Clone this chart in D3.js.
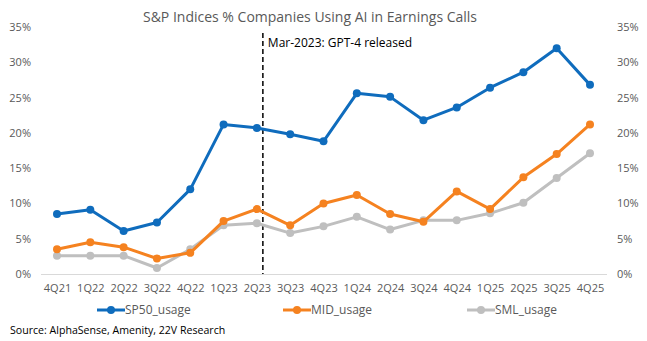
<!DOCTYPE html>
<html><head><meta charset="utf-8">
<script src="https://cdn.jsdelivr.net/npm/d3@7"></script>
<style>body{margin:0;background:#fff;}svg{display:block;font-family:"Open Sans",sans-serif;}</style>
</head><body><svg id="c" width="647" height="341"></svg>
<script>
const categories = ["4Q21","1Q22","2Q22","3Q22","4Q22","1Q23","2Q23","3Q23","4Q23","1Q24","2Q24","3Q24","4Q24","1Q25","2Q25","3Q25","4Q25"];
const sp50 = [8.5,9.1,6.1,7.3,12.0,21.2,20.7,19.8,18.8,25.6,25.1,21.8,23.6,26.4,28.6,32.0,26.8];
const mid  = [3.5,4.5,3.8,2.2,3.0,7.5,9.2,6.9,10.0,11.2,8.5,7.4,11.7,9.2,13.7,17.0,21.2];
const sml  = [2.6,2.6,2.6,0.85,3.5,6.9,7.2,5.8,6.75,8.1,6.3,7.6,7.6,8.6,10.1,13.6,17.1];
const yTicks = [0,5,10,15,20,25,30,35];
const seriesNames = ["SP50_usage","MID_usage","SML_usage"];
const colors = ["#0F6CBD","#F58220","#BFBFBF"];
const annotation = "Mar-2023: GPT-4 released";

const svg = d3.select("#c");
const x = d3.scalePoint().domain(categories).range([57,590]);
const y = d3.scaleLinear().domain([0,35]).range([274,27]);
const textCol = "#595959";

svg.append("text").attr("x",310).attr("y",22).attr("text-anchor","middle")
  .attr("font-size",14).attr("fill",textCol).text("S&P Indices % Companies Using AI in Earnings Calls");

// left axis
const yl = d3.axisLeft(y).tickValues(yTicks).tickFormat(d=>d+"%").tickSize(0).tickPadding(0);
const gl = svg.append("g").attr("transform","translate(31,0)").call(yl);
gl.select(".domain").remove();
gl.selectAll("text").attr("font-size",11).attr("fill",textCol).attr("font-family","Open Sans");
const yr = d3.axisRight(y).tickValues(yTicks).tickFormat(d=>d+"%").tickSize(0).tickPadding(0);
const gr = svg.append("g").attr("transform","translate(617,0)").call(yr);
gr.select(".domain").remove();
gr.selectAll("text").attr("font-size",11).attr("fill",textCol).attr("font-family","Open Sans");

// x axis
const xa = d3.axisBottom(x).tickSize(0).tickPadding(10);
const gx = svg.append("g").attr("transform",`translate(0,${y(0)})`).call(xa);
gx.select(".domain").attr("d",`M41,0.5H607`).attr("stroke","#D9D9D9");
gx.selectAll("text").attr("font-size",11).attr("fill",textCol).attr("font-family","Open Sans");

// dashed vline between 2Q23 and 3Q23
const vx = x("2Q23") + x.step()*0.18;
svg.append("line").attr("x1",vx).attr("x2",vx).attr("y1",33).attr("y2",y(0))
  .attr("stroke","#000").attr("stroke-width",1.5).attr("stroke-dasharray","5,3");
svg.append("text").attr("x",vx+5).attr("y",47).attr("font-size",12).attr("fill","#000").text(annotation);

const data = [sp50, mid, sml];
const line = d3.line().x((d,i)=>x(categories[i])).y(d=>y(d));
[2,1,0].forEach(k=>{
  const g = svg.append("g");
  g.append("path").datum(data[k]).attr("d",line).attr("fill","none")
    .attr("stroke",colors[k]).attr("stroke-width",3).attr("stroke-linejoin","round");
  g.selectAll("circle").data(data[k]).join("circle")
    .attr("cx",(d,i)=>x(categories[i])).attr("cy",d=>y(d)).attr("r",4).attr("fill",colors[k]);
});

// legend
const legX = [97,283,467];
seriesNames.forEach((n,k)=>{
  const g = svg.append("g").attr("transform",`translate(${legX[k]},310)`);
  g.append("line").attr("x1",0).attr("x2",28).attr("stroke",colors[k]).attr("stroke-width",3);
  g.append("circle").attr("cx",14).attr("cy",0).attr("r",4).attr("fill",colors[k]);
  g.append("text").attr("x",28).attr("y",4).attr("font-size",12).attr("fill",textCol).text(n);
});

svg.append("text").attr("x",10).attr("y",334).attr("font-size",10.6).attr("fill","#000")
  .text("Source: AlphaSense, Amenity, 22V Research");
</script></body></html>
